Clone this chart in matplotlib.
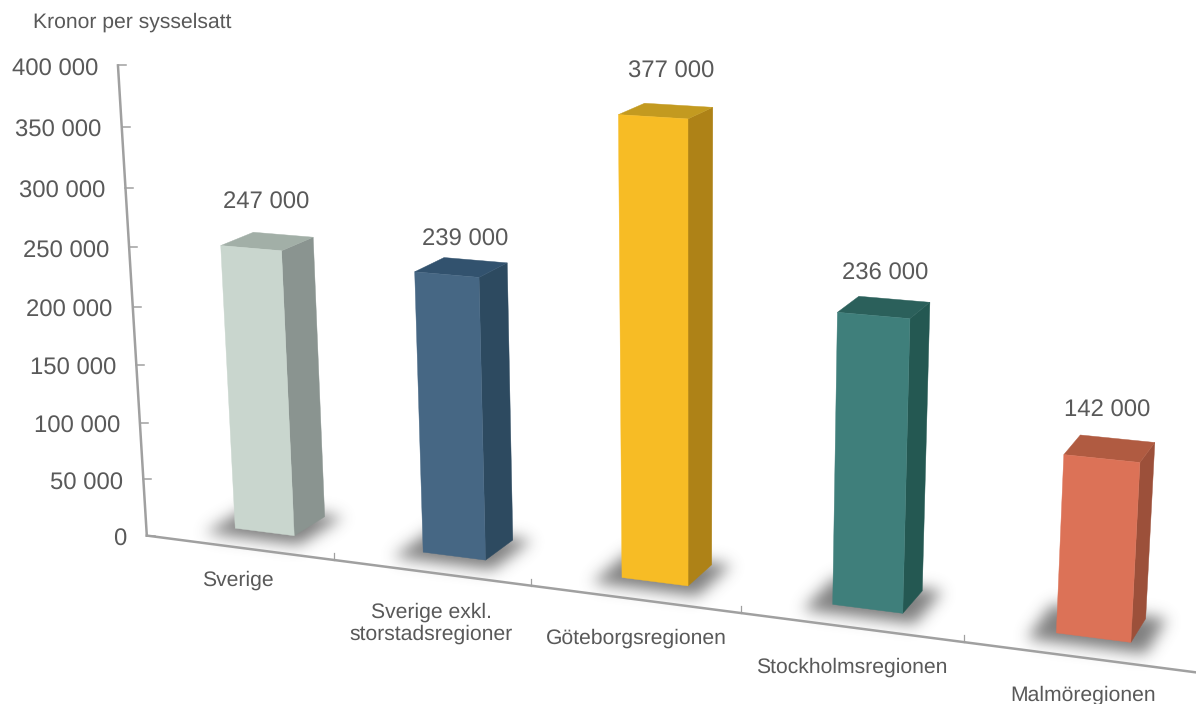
import numpy as np
import matplotlib
matplotlib.use('Agg')
import matplotlib.pyplot as plt
from matplotlib.patches import Polygon
from matplotlib.path import Path

plt.rcParams['font.family'] = ['Liberation Sans', 'DejaVu Sans']
plt.rcParams['text.hinting'] = 'none'
plt.rcParams['text.hinting_factor'] = 8

# ---- data ----
categories = ['Sverige', 'Sverige exkl.\nstorstadsregioner', 'Göteborgsregionen',
              'Stockholmsregionen', 'Malmöregionen']
values = [247000, 239000, 377000, 236000, 142000]
value_labels = ['247 000', '239 000', '377 000', '236 000', '142 000']
y_ticks = [0, 50000, 100000, 150000, 200000, 250000, 300000, 350000, 400000]
y_tick_labels = ['0', '50 000', '100 000', '150 000', '200 000', '250 000',
                 '300 000', '350 000', '400 000']
y_title = 'Kronor per sysselsatt'

# ---- styles ----
front_colors = ['#C9D6CE', '#466784', '#F7BC25', '#3F7F7B', '#DC7257']
side_colors = ['#8A9490', '#2D4A60', '#AE8217', '#245852', '#9C503A']
top_colors = ['#A2AFA7', '#32526E', '#C39A20', '#2B605B', '#B05B41']
text_color = '#595959'
axis_color = '#A0A0A0'
cat_label_pos = [(238, 580), (431, 623), (636, 638), (852, 667), (1083, 695)]
val_label_pos = [(266, 203), (465, 240), (671, 72), (885, 274), (1107, 411)]

# ---- perspective scale: (category, value/1e5, depth) -> figure pixels ----
CAMERA = np.array([[180.125, -8.82281, 37.7477, 238.923],
                   [9.02532, -120.021, -8.23485, 547.593],
                   [-0.0279965, -0.0127891, 0.0213163, 1.0]])
HALF_W = 0.16
Z_FRONT, Z_BACK = 0.8, 1.8


def proj(x, v, z):
    q = CAMERA @ np.array([x, v / 1e5, z, 1.0])
    return q[:2] / q[2]


W, H = 1196, 704
fig = plt.figure(figsize=(W / 100, H / 100), dpi=100)
ax = fig.add_axes([0, 0, 1, 1])
ax.set_xlim(0, W)
ax.set_ylim(H, 0)
ax.axis('off')

# ---- floor shadows (blurred) ----
yy, xx = np.mgrid[0:H, 0:W]
pix = np.c_[xx.ravel() + .5, yy.ravel() + .5]
mask = np.zeros((H, W))
for i in range(len(values)):
    L, R = i - HALF_W - 0.10, i + HALF_W + 0.085
    zf, zb = Z_FRONT - 0.36, Z_BACK + 0.10
    quad = [proj(L, 0, zf), proj(R, 0, zf), proj(R, 0, zb), proj(L, 0, zb)]
    mask += Path(quad).contains_points(pix).reshape(H, W)
sigma = 7.5
rad = np.arange(-24, 25)
kern = np.exp(-rad ** 2 / (2 * sigma ** 2))
kern /= kern.sum()
mask = np.apply_along_axis(lambda r: np.convolve(r, kern, mode='same'), 1, mask)
mask = np.apply_along_axis(lambda r: np.convolve(r, kern, mode='same'), 0, mask)
rgba = np.zeros((H, W, 4))
rgba[..., :3] = 0.30
rgba[..., 3] = np.clip(mask, 0, 1) * 0.72
ax.imshow(rgba, extent=(0, W, H, 0), zorder=1, interpolation='bilinear', aspect='auto')
ax.set_xlim(0, W)
ax.set_ylim(H, 0)

# ---- axes lines and ticks ----
X0, X1 = -0.5, len(values) - 0.5
ax.plot(*np.array([proj(X0, 400000, 0), proj(X0, 0, 0)]).T, color=axis_color, lw=1.8,
        zorder=2, solid_capstyle='projecting')
ax.plot(*np.array([proj(X0, 0, 0), proj(X1, 0, 0)]).T, color=axis_color, lw=1.8, zorder=2)
for t, lab in zip(y_ticks, y_tick_labels):
    px, py = proj(X0, t, 0)
    ax.plot([px, px + 8], [py, py], color=axis_color, lw=1.1, zorder=2)
    ax.text(px - 20, py + 4, lab, ha='right', va='center', fontsize=17.2, color=text_color)
for k in range(1, len(values)):
    px, py = proj(k - 0.5, 0, 0)
    ax.plot([px, px], [py - 7, py], color=axis_color, lw=0.9, zorder=2)

# ---- bars ----
for i, v in enumerate(values):
    L, R = i - HALF_W, i + HALF_W
    side = [proj(R, 0, Z_FRONT), proj(R, 0, Z_BACK), proj(R, v, Z_BACK), proj(R, v, Z_FRONT)]
    top = [proj(L, v, Z_FRONT), proj(R, v, Z_FRONT), proj(R, v, Z_BACK), proj(L, v, Z_BACK)]
    front = [proj(L, 0, Z_FRONT), proj(R, 0, Z_FRONT), proj(R, v, Z_FRONT), proj(L, v, Z_FRONT)]
    for poly, col in ((side, side_colors[i]), (top, top_colors[i]), (front, front_colors[i])):
        ax.add_patch(Polygon(poly, closed=True, facecolor=col, edgecolor=col, lw=0.3, zorder=3))

# ---- labels ----
for (x, y), s in zip(val_label_pos, value_labels):
    ax.text(x, y, s, ha='center', va='center', fontsize=17.2, color=text_color)
for (x, y), s in zip(cat_label_pos, categories):
    ax.text(x, y, s, ha='center', va='center', fontsize=15.2, color=text_color,
            linespacing=1.15)
ax.text(33, 22, y_title, ha='left', va='center', fontsize=15.2, color=text_color)

fig.savefig('out.png', dpi=100)
